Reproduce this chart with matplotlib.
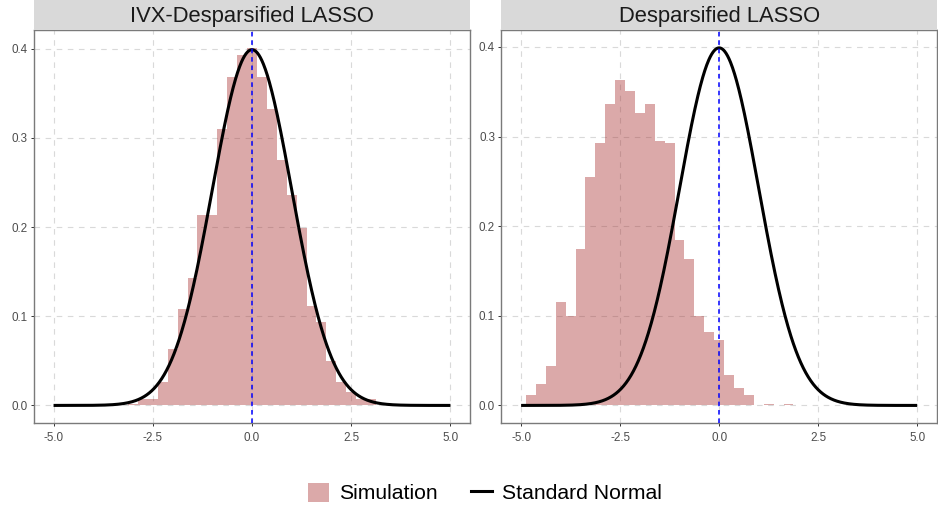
import numpy as np
import matplotlib
matplotlib.use('Agg')
import matplotlib.pyplot as plt
from matplotlib.patches import Patch
from matplotlib.lines import Line2D

plt.rcParams['font.family'] = ['Liberation Sans', 'DejaVu Sans']

# histogram bins (width 0.25), density values
binwidth = 0.25
ivx_centers = [-3.0, -2.75, -2.5, -2.25, -2.0, -1.75, -1.5, -1.25, -1.0, -0.75, -0.5, -0.25,
               0.0, 0.25, 0.5, 0.75, 1.0, 1.25, 1.5, 1.75, 2.0, 2.25, 2.5, 2.75, 3.0]
ivx_density = [0.002, 0.007, 0.007, 0.026, 0.0635, 0.1076, 0.1434, 0.214, 0.214, 0.310, 0.368, 0.3925,
               0.401, 0.368, 0.332, 0.2757, 0.2357, 0.1995, 0.1117, 0.0937, 0.0497, 0.026, 0.015, 0.0075, 0.007]

ds_centers = [-4.75, -4.5, -4.25, -4.0, -3.75, -3.5, -3.25, -3.0, -2.75, -2.5, -2.25, -2.0, -1.75,
              -1.5, -1.25, -1.0, -0.75, -0.5, -0.25, 0.0, 0.25, 0.5, 0.75, 1.0, 1.25, 1.5, 1.75]
ds_density = [0.0115, 0.0237, 0.0437, 0.1157, 0.1001, 0.1742, 0.255, 0.2925, 0.3366, 0.363, 0.3507, 0.3266, 0.3366,
              0.2947, 0.2925, 0.1842, 0.1638, 0.1001, 0.0823, 0.0734, 0.0337, 0.0196, 0.0115, 0.0, 0.0012, 0.0, 0.0012]

titles = ['IVX-Desparsified LASSO', 'Desparsified LASSO']
xticks = [-5.0, -2.5, 0.0, 2.5, 5.0]
yticks = [0.0, 0.1, 0.2, 0.3, 0.4]

# standard normal density on [-5, 5]
xs = np.linspace(-5, 5, 801)
normal = np.exp(-xs**2 / 2) / np.sqrt(2 * np.pi)

hist_color = (165/255, 42/255, 42/255)

W, H = 938, 512
fig = plt.figure(figsize=(W/100, H/100), dpi=100)

panels = [(33.7, 470.3, ivx_centers, ivx_density), (501.3, 937.0, ds_centers, ds_density)]
top, bottom = 30.0, 423.3

for i, (x0, x1, centers, dens) in enumerate(panels):
    ax = fig.add_axes([x0/W, 1 - bottom/H, (x1-x0)/W, (bottom-top)/H])
    ax.set_axisbelow(True)
    ax.grid(True, color='#D9D9D9', linestyle=(0, (5, 5)), linewidth=0.8)
    ax.bar(centers, dens, width=binwidth, color=hist_color, alpha=0.4, linewidth=0, zorder=2)
    ax.plot(xs, normal, color='black', linewidth=2.2, solid_capstyle='butt', zorder=3)
    ax.axvline(0, color='blue', linewidth=1.1, linestyle=(0, (3, 2.5)), zorder=4)

    ymax = max(max(dens), normal.max())
    ax.set_ylim(-0.05*ymax, 1.05*ymax)
    ax.set_xlim(-5.5, 5.5)
    ax.set_xticks(xticks)
    ax.set_xticklabels(['%.1f' % v for v in xticks])
    ax.set_yticks(yticks)
    ax.set_yticklabels(['%.1f' % v for v in yticks])
    ax.tick_params(axis='both', length=2.5, width=0.7, color='#333333',
                   labelcolor='#4D4D4D', labelsize=8.4)
    ax.tick_params(axis='x', pad=3.5)
    ax.tick_params(axis='y', pad=2)
    for s in ax.spines.values():
        s.set_color('#7A7A7A')
        s.set_linewidth(1.0)

    # facet strip
    sax = fig.add_axes([x0/W, 1 - 29.5/H, (x1-x0)/W, 29.5/H])
    sax.set_facecolor('#D9D9D9')
    sax.set_xticks([])
    sax.set_yticks([])
    for s in sax.spines.values():
        s.set_visible(False)
    sax.text(0.5, 0.45, titles[i], ha='center', va='center', fontsize=15.8,
             color='#1A1A1A', transform=sax.transAxes)

handles = [Patch(facecolor=hist_color, alpha=0.4, edgecolor='none', label='Simulation'),
           Line2D([0], [0], color='black', linewidth=2.2, label='Standard Normal')]
fig.legend(handles=handles, loc='center', bbox_to_anchor=(485/W, 1 - 493/H), ncol=2,
           frameon=False, fontsize=15.2, handlelength=1.0, handleheight=1.0,
           handletextpad=0.45, columnspacing=1.6)

fig.savefig('out.png', dpi=100)
